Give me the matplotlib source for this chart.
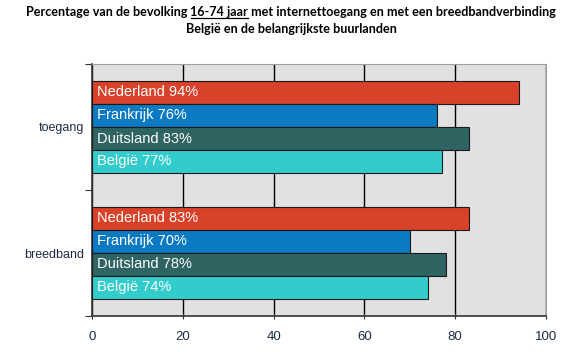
import matplotlib.pyplot as plt

groups = ["toegang", "breedband"]
countries = ["Nederland", "Frankrijk", "Duitsland", "België"]
colors = ["#D8412A", "#0B7AC2", "#2E6461", "#33CCCC"]
values = {
    "toegang": [94, 76, 83, 77],
    "breedband": [83, 70, 78, 74],
}
xticks = [0, 20, 40, 60, 80, 100]

fig = plt.figure(figsize=(5.78, 3.52), dpi=100)
ax = fig.add_axes([92 / 578, 1 - 316 / 352, 454 / 578, 252 / 352])
ax.set_facecolor("#E1E1E1")

bar_h = 23 / 126
for g, grp in enumerate(groups):
    center = 1.5 - g
    for i, c in enumerate(countries):
        y = center + 1.5 * bar_h - i * bar_h
        v = values[grp][i]
        ax.barh(y, v, height=bar_h, color=colors[i], edgecolor="#1a1a1a",
                linewidth=0.8, zorder=3)
        ax.text(1, y, f"{c} {v}%", color="white", fontsize=10.5,
                family="Liberation Sans", va="center", ha="left", zorder=4)

ax.set_xlim(0, 100)
ax.set_ylim(0, 2)
ax.set_xticks(xticks)
ax.set_xticklabels([str(t) for t in xticks], family="Liberation Sans",
                   fontsize=9.5, color="#1F2A44")
ax.set_yticks([0, 1, 2])
ax.set_yticklabels([])
ax.set_yticks([0.5, 1.5], minor=True)
ax.set_yticklabels(["breedband", "toegang"], minor=True,
                   family="Liberation Sans", fontsize=9, color="#1F2A44")
ax.tick_params(axis="y", which="minor", length=0, pad=6)
ax.tick_params(axis="y", which="major", length=5, direction="out", color="#333333")
ax.tick_params(axis="x", length=5, direction="inout", color="#333333", pad=8)
ax.grid(axis="x", color="black", linewidth=1, zorder=1)
ax.set_axisbelow(True)
for s in ["top", "right"]:
    ax.spines[s].set_color("#A0A0A0")
for s in ["left", "bottom"]:
    ax.spines[s].set_color("#333333")
    ax.spines[s].set_linewidth(1.2)

# title with underlined part
parts = ["Percentage van de bevolking ", "16-74 jaar",
         " met internettoegang en met een breedbandverbinding"]
tfont = dict(family="Lato", fontsize=9.05, weight="bold", color="black")
fig.canvas.draw()
r = fig.canvas.get_renderer()
widths = []
for p in parts:
    t = fig.text(0, 0, p, **tfont)
    widths.append(t.get_window_extent(r).width)
    t.remove()
full = fig.text(0, 0, "".join(parts), **tfont)
total = full.get_window_extent(r).width
full.remove()
x0 = (578 - total) / 2 + 2
y1 = 352 - 16
xs = x0
for p, w in zip(parts, widths):
    fig.text(xs / 578, y1 / 352, p, ha="left", va="baseline", **tfont)
    if p == "16-74 jaar":
        fig.add_artist(plt.Line2D([xs / 578, (xs + w) / 578],
                                  [(y1 - 2) / 352, (y1 - 2) / 352],
                                  color="black", linewidth=0.9))
    xs += w
fig.text(0.5 + 2 / 578, (352 - 33) / 352, "België en de belangrijkste buurlanden",
         ha="center", va="baseline", **tfont)

fig.savefig("out.png", dpi=100)
